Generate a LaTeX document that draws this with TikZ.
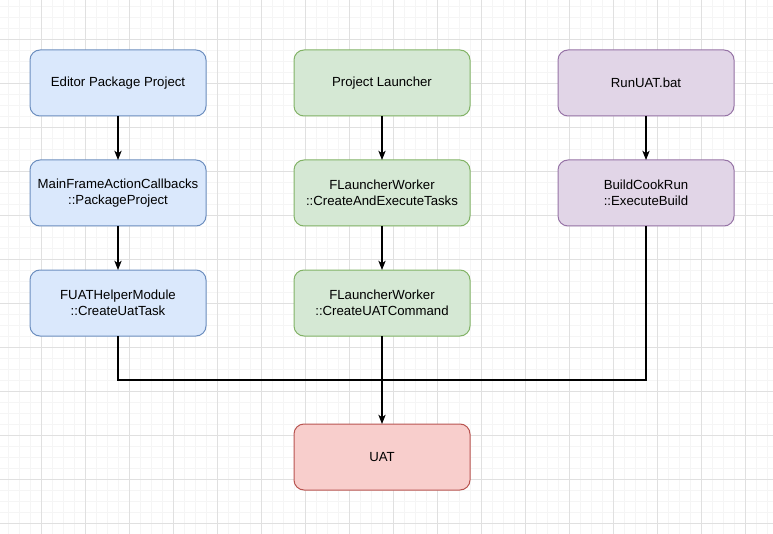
\documentclass[tikz,border=0pt]{standalone}
\usepackage{fontspec}
\setmainfont{Liberation Sans}
\usetikzlibrary{arrows.meta, positioning}
\definecolor{editorfill}{HTML}{DAE8FC}
\definecolor{editorline}{HTML}{6C8EBF}
\definecolor{launchfill}{HTML}{D5E8D4}
\definecolor{launchline}{HTML}{82B366}
\definecolor{batfill}{HTML}{E1D5E7}
\definecolor{batline}{HTML}{9673A6}
\definecolor{uatfill}{HTML}{F8CECC}
\definecolor{uatline}{HTML}{B85450}
\tikzset{
  box/.style        = {draw, line width=0.75pt, rounded corners=7.5pt,
                       minimum width=132pt, minimum height=49.5pt, align=center,
                       outer sep=0pt, font=\fontsize{9.9}{12}\selectfont},
  editorbox/.style  = {box, fill=editorfill, draw=editorline},
  launchbox/.style  = {box, fill=launchfill, draw=launchline},
  batbox/.style     = {box, fill=batfill, draw=batline},
  uatbox/.style     = {box, fill=uatfill, draw=uatline},
  flow/.style       = {line width=0.8pt, black},
  arrow/.style      = {flow, -{Stealth[length=7pt, width=5.5pt, inset=2pt]}},
  minorgrid/.style  = {line width=0.6pt, black!4},
  majorgrid/.style  = {line width=0.6pt, black!12},
  node distance     = 33pt,
}

\begin{document}
\begin{tikzpicture}[x=0.75pt, y=-0.75pt]
  \useasboundingbox (0,0) rectangle (773,534);
  % background grid
  \fill[white] (0,0) rectangle (773,534);
  \foreach \x in {8.3,19.3,...,773} \draw[minorgrid] (\x,0) -- (\x,534);
  \foreach \y in {6.3,17.3,...,534} \draw[minorgrid] (0,\y) -- (773,\y);
  \foreach \x in {41.3,85.3,...,773} \draw[majorgrid] (\x,0) -- (\x,534);
  \foreach \y in {39.3,83.3,...,534} \draw[majorgrid] (0,\y) -- (773,\y);

  % editor column
  \node[editorbox] (editor) at (118,83) {Editor Package Project};
  \node[editorbox, below=of editor] (mainframe) {MainFrameActionCallbacks\\::PackageProject};
  \node[editorbox, below=of mainframe] (fuat) {FUATHelperModule\\::CreateUatTask};

  % launcher column
  \node[launchbox] (launcher) at (382,83) {Project Launcher};
  \node[launchbox, below=of launcher] (worker) {FLauncherWorker\\::CreateAndExecuteTasks};
  \node[launchbox, below=of worker] (uatcmd) {FLauncherWorker\\::CreateUATCommand};

  % batch column
  \node[batbox] (runuat) at (646,83) {RunUAT.bat};
  \node[batbox, below=of runuat] (build) {BuildCookRun\\::ExecuteBuild};

  \node[uatbox, below=66pt of uatcmd] (uat) {UAT};
  \coordinate[below=of uatcmd] (merge);

  \draw[arrow] (editor) -- (mainframe);
  \draw[arrow] (mainframe) -- (fuat);
  \draw[arrow] (launcher) -- (worker);
  \draw[arrow] (worker) -- (uatcmd);
  \draw[arrow] (runuat) -- (build);
  \draw[flow] (fuat.south) |- (merge);
  \draw[flow] (build.south) |- (merge);
  \draw[arrow] (uatcmd) -- (uat);
\end{tikzpicture}
\end{document}
